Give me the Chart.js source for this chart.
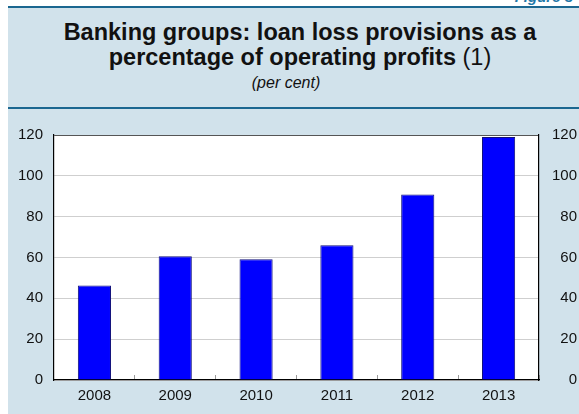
<!DOCTYPE html>
<html>
<head>
<meta charset="utf-8">
<script src="https://cdn.jsdelivr.net/npm/chart.js@4"></script>
<style>
  body { margin: 0; background: #fff; font-family: "Liberation Sans", Arial, Helvetica, sans-serif; }
  #page { position: relative; width: 579px; height: 414px; overflow: hidden; }
  #figno { position: absolute; right: 6px; top: -12px; color: #1f78a8; font: italic bold 15px "Liberation Sans", Arial, sans-serif; }
  #panel { position: absolute; left: 8px; top: 6px; right: 0; bottom: 0; background: #d1e2eb; border-top: 2px solid #1b6790; }
  #head { position: absolute; left: 8px; top: 8px; right: 0; height: 99px; border-bottom: 2px solid #1b6790; }
  .title { position: absolute; left: 0; width: 600px; text-align: center; font-weight: bold; font-size: 23.5px; line-height: 25px; color: #111; }
  .title span { font-weight: normal; }
  #sub { position: absolute; left: 0; width: 572px; top: 74px; text-align: center; font-style: italic; font-size: 16px; color: #111; }
  #box { position: absolute; left: 0; top: 110px; width: 579px; height: 304px; }
</style>
</head>
<body>
<div id="page">
  <div id="figno">Figure 8</div>
  <div id="panel"></div>
  <div id="head"></div>
  <div class="title" style="top:20px">Banking groups: loan loss provisions as a</div>
  <div class="title" style="top:45px">percentage of operating profits <span>(1)</span></div>
  <div id="sub">(per cent)</div>
  <div id="box"><canvas id="chart" width="579" height="304"></canvas></div>
</div>
<script>
// loan loss provisions / operating profits, per cent
var years = ["2008", "2009", "2010", "2011", "2012", "2013"];
var provisions = [46.3, 60.6, 59.1, 66.0, 90.9, 119.0];
var yTicks = [0, 20, 40, 60, 80, 100, 120];

var tickFont = { family: "'Liberation Sans', Arial, Helvetica, sans-serif", size: 15 };

// white plot area behind the bars
var plotBackground = {
  id: "plotBackground",
  beforeDraw: function (chart) {
    var a = chart.chartArea;
    var c = chart.ctx;
    c.save();
    c.fillStyle = "#ffffff";
    c.fillRect(a.left, a.top, a.right - a.left, a.bottom - a.top);
    c.restore();
  }
};

var ctx = document.getElementById("chart").getContext("2d");

var chart = new Chart(ctx, {
  type: "bar",
  data: {
    labels: years,
    datasets: [
      {
        data: provisions,
        backgroundColor: "#0000ff",
        borderColor: "#10107a",
        borderWidth: 1,
        barPercentage: 0.41,
        categoryPercentage: 1.0,
        yAxisID: "y"
      }
    ]
  },
  options: {
    responsive: false,
    animation: false,
    layout: { padding: { top: 25, right: 2, bottom: 0, left: 0 } },
    plugins: {
      legend: { display: false },
      tooltip: { enabled: false }
    },
    scales: {
      x: {
        offset: true,
        afterFit: function (s) { s.height = 34; },
        grid: {
          offset: true,
          drawOnChartArea: false,
          drawTicks: true,
          tickLength: -5,
          color: "#9a9a9a"
        },
        border: { color: "#000", width: 1.2 },
        ticks: { color: "#111", font: tickFont, padding: 12, maxRotation: 0 }
      },
      y: {
        position: "left",
        min: 0,
        max: 120,
        afterFit: function (s) { s.width = 54; },
        afterBuildTicks: function (s) { s.ticks = yTicks.map(function (v) { return { value: v }; }); },
        grid: {
          drawTicks: false,
          color: function (c) { return c.tick && c.tick.value === 120 ? "#555" : "#cfcfcf"; },
          lineWidth: 1
        },
        border: { color: "#000", width: 1.2 },
        ticks: { color: "#111", font: tickFont, padding: 11 }
      },
      y2: {
        position: "right",
        min: 0,
        max: 120,
        afterFit: function (s) { s.width = 38; },
        afterBuildTicks: function (s) { s.ticks = yTicks.map(function (v) { return { value: v }; }); },
        grid: { display: false, drawTicks: false },
        border: { color: "#000", width: 1.2 },
        ticks: { color: "#111", font: tickFont, padding: 4, crossAlign: "far" }
      }
    }
  },
  plugins: [plotBackground]
});
</script>
</body>
</html>
